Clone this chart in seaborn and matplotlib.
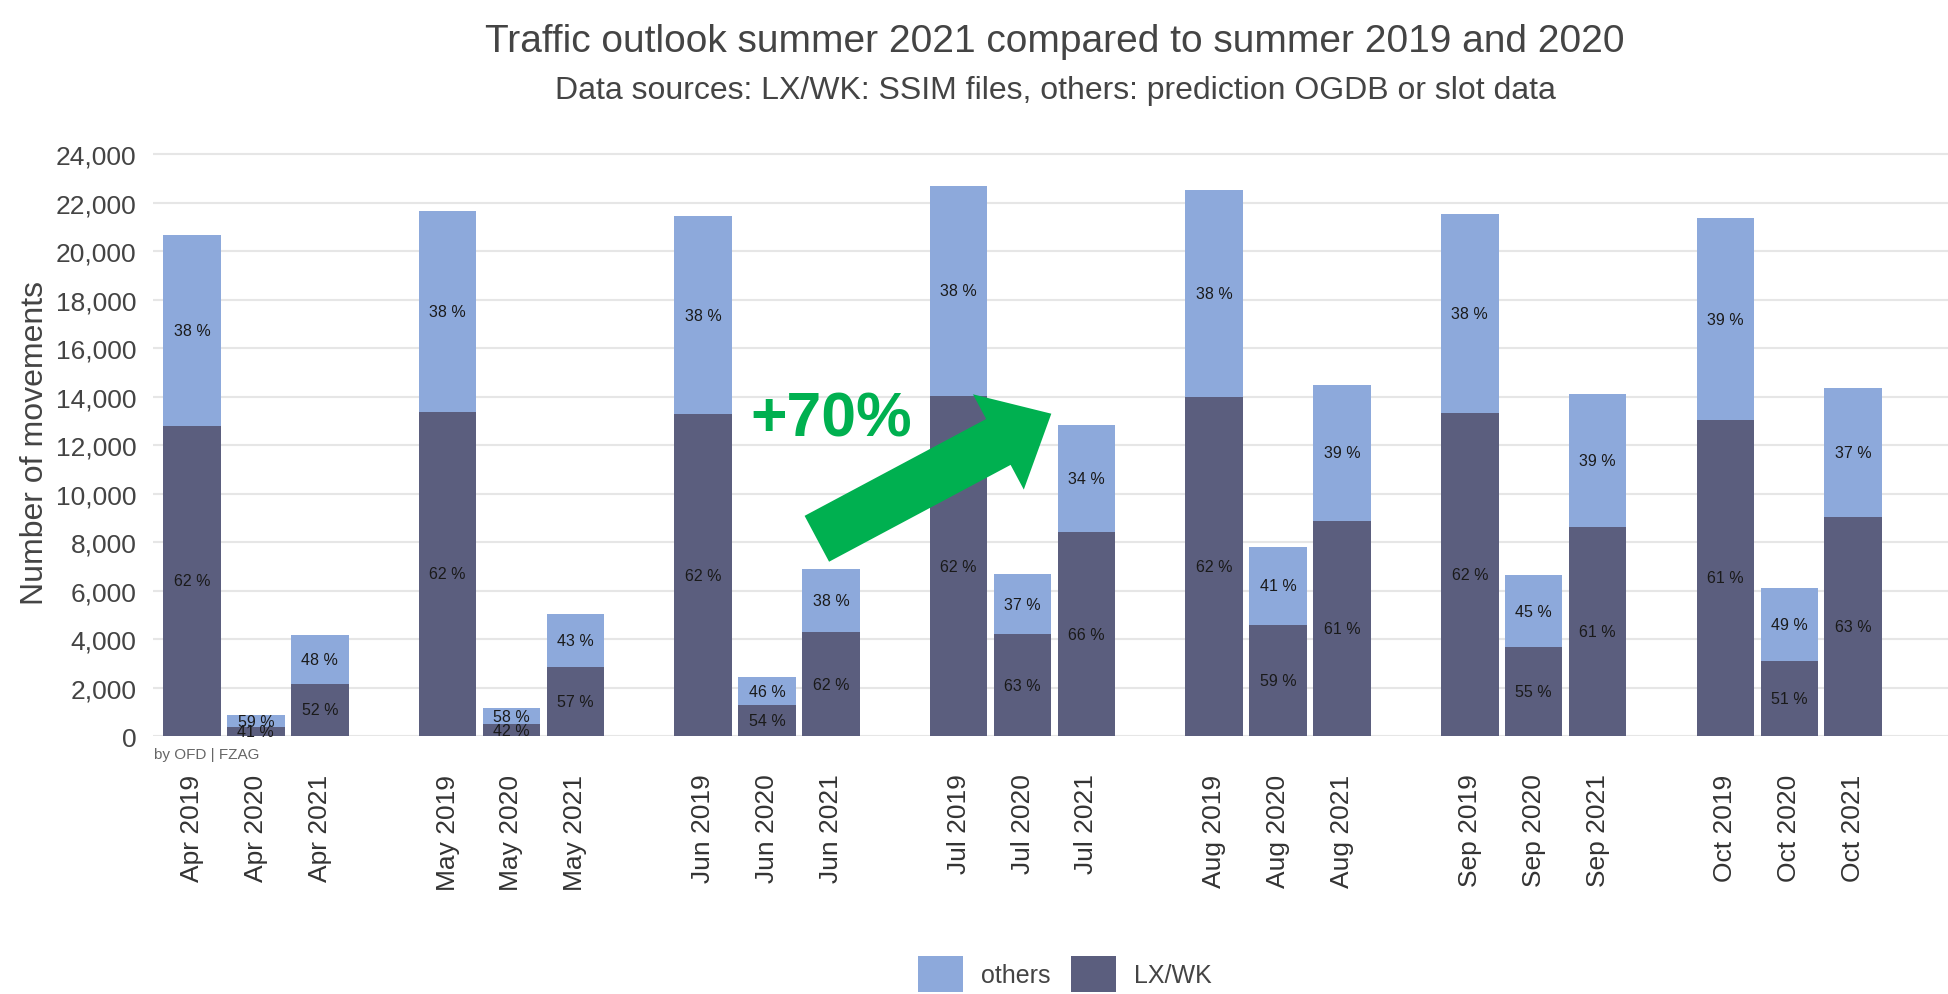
import numpy as np
import pandas as pd
import matplotlib
matplotlib.use("Agg")
import matplotlib.pyplot as plt
from matplotlib.patches import Patch
from matplotlib.ticker import StrMethodFormatter
import seaborn as sns

# ---------------- data ----------------
months = ["Apr", "May", "Jun", "Jul", "Aug", "Sep", "Oct"]
years = ["2019", "2020", "2021"]
# movements per month/year (order: month by month, 2019/2020/2021)
lxwk = [12800, 360, 2160,
        13380, 490, 2860,
        13270, 1300, 4280,
        14030, 4210, 8420,
        14000, 4590, 8860,
        13320, 3660, 8640,
        13050, 3100, 9040]
others = [7870, 520, 1990,
          8270, 670, 2170,
          8190, 1120, 2620,
          8680, 2470, 4400,
          8520, 3210, 5640,
          8220, 3000, 5470,
          8310, 3000, 5340]
series_names = ["others", "LX/WK"]
title = "Traffic outlook summer 2021 compared to summer 2019 and 2020"
subtitle = "Data sources: LX/WK: SSIM files, others: prediction OGDB or slot data"
y_ticks = [0, 2000, 4000, 6000, 8000, 10000, 12000, 14000, 16000, 18000, 20000, 22000, 24000]
annotation_text = "+70%"

# ---------------- frame ----------------
labels = [f"{m} {y}" for m in months for y in years]
pos = [mi * 4 + yi for mi in range(len(months)) for yi in range(len(years))]
lx = np.array(lxwk, dtype=float)
ot = np.array(others, dtype=float)
total = lx + ot
df = pd.DataFrame({"label": labels, "pos": pos, "lxwk": lx, "others": ot, "total": total})

C_OTHERS = "#8DA9DB"
C_LX = "#5B5E7E"
GREEN = "#00B050"

sns.set_theme(style="white")
plt.rcParams["font.family"] = ["Liberation Sans", "DejaVu Sans"]

fig = plt.figure(figsize=(19.49, 9.95), dpi=100)
ax = fig.add_axes([153 / 1949, 0.2592, 1 - 153 / 1949, 0.592])

sns.barplot(data=df, x="pos", y="total", native_scale=True, color=C_OTHERS,
            saturation=1, width=0.9, linewidth=0, errorbar=None, ax=ax, zorder=2)
sns.barplot(data=df, x="pos", y="lxwk", native_scale=True, color=C_LX,
            saturation=1, width=0.9, linewidth=0, errorbar=None, ax=ax, zorder=3)

# percentage labels
for p, l, o, t in zip(df["pos"], df["lxwk"], df["others"], df["total"]):
    ax.text(p, l / 2, f"{round(100 * l / t)} %", ha="center", va="center",
            fontsize=11.5, color="#1a1a1a", zorder=5)
    ax.text(p, l + o / 2, f"{round(100 * o / t)} %", ha="center", va="center",
            fontsize=11.5, color="#1a1a1a", zorder=5)

ax.set_xlim(-0.61, 27.5)
ax.set_ylim(0, 24300)
ax.set_yticks(y_ticks)
ax.yaxis.set_major_formatter(StrMethodFormatter("{x:,.0f}"))
ax.set_xticks(pos)
ax.set_xticklabels(labels, rotation=90, fontsize=19, color="#333333")
ax.tick_params(axis="x", length=0, pad=27)
ax.tick_params(axis="y", length=0, pad=12, labelsize=19, labelcolor="#444444")
ax.grid(axis="y", color="#E6E6E6", linewidth=1.5, zorder=0)
ax.set_axisbelow(True)
for s in ax.spines.values():
    s.set_visible(False)
ax.set_xlabel("")
ax.set_ylabel("Number of movements", fontsize=23, color="#444444", va="center")
ax.yaxis.set_label_coords(-0.0657, 0.5)

# caption
ax.annotate("by OFD | FZAG", xy=(0, 0), xycoords="axes fraction",
            xytext=(1, -13), textcoords="offset points", ha="left", va="center",
            fontsize=11, color="#666666")

# arrow annotation
ax.annotate("", xy=(13.45, 13300), xytext=(9.78, 8140),
            arrowprops=dict(arrowstyle="simple,head_length=0.6,head_width=1.08,tail_width=0.52",
                            mutation_scale=72, fc=GREEN, ec="none", shrinkA=0, shrinkB=0),
            zorder=6)
ax.text(10.0, 13080, annotation_text, ha="center", va="center", fontsize=45,
        fontweight="bold", color=GREEN, zorder=6)

# titles
fig.text(1055 / 1949, 1 - 42 / 995, title, ha="center", va="center", fontsize=28, color="#444444")
fig.text(1055 / 1949, 1 - 91 / 995, subtitle, ha="center", va="center", fontsize=23, color="#444444")

# legend
handles = [Patch(facecolor=C_OTHERS, edgecolor="none"), Patch(facecolor=C_LX, edgecolor="none")]
fig.legend(handles, series_names, loc="center", bbox_to_anchor=(1065 / 1949, 20 / 995),
           ncol=2, frameon=False, fontsize=18, handlelength=1.8, handleheight=1.8,
           handletextpad=0.7, columnspacing=0.85, borderpad=0, labelcolor="#444444")

fig.savefig("out.png", dpi=100)
